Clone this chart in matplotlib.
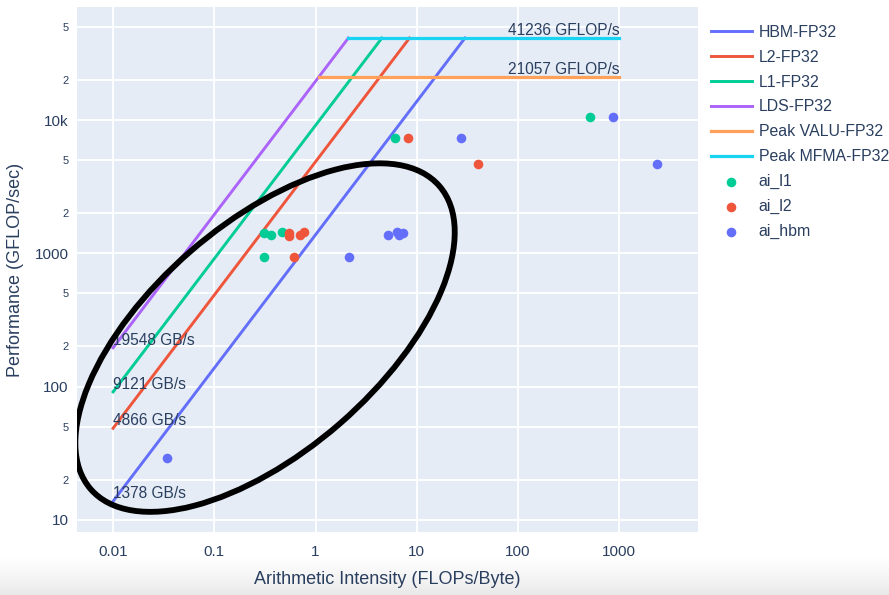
import numpy as np
import matplotlib
matplotlib.use('Agg')
import matplotlib.pyplot as plt
from matplotlib.patches import Ellipse
from matplotlib.transforms import IdentityTransform

# roofline values
mem_names = ['HBM-FP32', 'L2-FP32', 'L1-FP32', 'LDS-FP32']
mem_bw = [1378, 4866, 9121, 19548]          # GB/s
peak_names = ['Peak VALU-FP32', 'Peak MFMA-FP32']
peak_flops = [21057, 41236]                 # GFLOP/s
ai_start = 0.01
ai_end = 1000

# kernel points (arithmetic intensity, performance)
l1_ai = [518, 6.08, 0.308, 0.365, 0.469, 0.308]
l1_perf = [10500, 7360, 1430, 1372, 1445, 933]
l2_ai = [8.11, 40.2, 0.541, 0.545, 0.695, 0.761, 0.616]
l2_perf = [7360, 4650, 1413, 1353, 1381, 1445, 933]
hbm_ai = [861, 27.3, 2360, 5.15, 6.36, 6.61, 7.24, 2.13, 0.034]
hbm_perf = [10500, 7360, 4650, 1381, 1445, 1364, 1420, 933, 29.3]

y_ticks = [10, 20, 50, 100, 200, 500, 1000, 2000, 5000, 10000, 20000, 50000]
y_labels = ['10', '2', '5', '100', '2', '5', '1000', '2', '5', '10k', '2', '5']
x_ticks = [0.01, 0.1, 1, 10, 100, 1000]
x_labels = ['0.01', '0.1', '1', '10', '100', '1000']

mem_colors = ['#636EFA', '#EF553B', '#00CC96', '#AB63FA']
peak_colors = ['#FFA15A', '#19D3F3']
TXT = '#2a3f5f'

plt.rcParams['font.family'] = ['Liberation Sans', 'DejaVu Sans']

fig = plt.figure(figsize=(8.89, 5.95), dpi=100)

# faint grey shading at the bottom of the screenshot
bg = fig.add_axes([0, 0, 1, 38 / 595])
bg.set_zorder(-1)
grad = np.linspace(0, 1, 50).reshape(-1, 1)
bg.imshow(grad, aspect='auto', cmap='Greys', vmin=0, vmax=6, extent=[0, 1, 0, 1])
bg.axis('off')

ax = fig.add_axes([77 / 889, 63 / 595, 621 / 889, 525 / 595])
ax.set_facecolor('#E5ECF6')
ax.set_xscale('log')
ax.set_yscale('log')
ax.set_xlim(0.0044, 6000)
ax.set_ylim(8.1, 70500)

max_peak = max(peak_flops)
for name, bw, col in zip(mem_names, mem_bw, mem_colors):
    ridge = max_peak / bw
    ax.plot([ai_start, ridge], [ai_start * bw, max_peak], color=col,
            lw=2.1, label=name, zorder=3)
    ax.annotate(f'{bw} GB/s', (ai_start, ai_start * bw), xytext=(0, 0),
                textcoords='offset points', ha='left', va='bottom',
                fontsize=11.2, color=TXT, zorder=5)

for name, pk, col in zip(peak_names, peak_flops, peak_colors):
    ridge = pk / max(mem_bw)
    ax.plot([ridge, ai_end], [pk, pk], color=col, lw=2.3, label=name, zorder=3)
    ax.annotate(f'{pk} GFLOP/s', (ai_end, pk), xytext=(0, 0),
                textcoords='offset points', ha='right', va='bottom',
                fontsize=11.2, color=TXT, zorder=5)

ax.scatter(l1_ai, l1_perf, s=48, color='#00CC96', label='ai_l1', zorder=4, linewidths=0)
ax.scatter(l2_ai, l2_perf, s=48, color='#EF553B', label='ai_l2', zorder=4, linewidths=0)
ax.scatter(hbm_ai, hbm_perf, s=48, color='#636EFA', label='ai_hbm', zorder=4, linewidths=0)

ax.xaxis.set_major_locator(matplotlib.ticker.FixedLocator(x_ticks))
ax.xaxis.set_major_formatter(matplotlib.ticker.FixedFormatter(x_labels))
ax.xaxis.set_minor_locator(matplotlib.ticker.NullLocator())
ax.yaxis.set_major_locator(matplotlib.ticker.FixedLocator(y_ticks))
ax.yaxis.set_major_formatter(matplotlib.ticker.FixedFormatter(y_labels))
ax.yaxis.set_minor_locator(matplotlib.ticker.NullLocator())
ax.tick_params(length=0, colors=TXT, labelsize=11)
ax.tick_params(axis='x', pad=9)
ax.tick_params(axis='y', pad=6)
for lab, txt in zip(ax.get_yticklabels(), y_labels):
    if txt in ('2', '5'):
        lab.set_fontsize(8)

ax.grid(True, color='white', lw=1.3)
ax.set_axisbelow(True)
for s in ax.spines.values():
    s.set_visible(False)

ax.set_xlabel('Arithmetic Intensity (FLOPs/Byte)', fontsize=13, color=TXT, labelpad=9)
ax.set_ylabel('Performance (GFLOP/sec)', fontsize=13, color=TXT, labelpad=8)

fig.legend(*ax.get_legend_handles_labels(), loc='upper left',
           bbox_to_anchor=(711 / 889, 1 - 25 / 595), bbox_transform=fig.transFigure,
           frameon=False, fontsize=11.4, labelcolor=TXT, handlelength=2.57,
           handletextpad=0.45, labelspacing=0.62, borderpad=0, borderaxespad=0,
           scatterpoints=1)

# hand-drawn black ellipse highlight
fig.canvas.draw()
cx, cy = ax.transData.transform((0.317, 233))
ell = Ellipse((cx, cy), 2 * 231, 2 * 114, angle=41, fill=False,
              edgecolor='black', lw=4.2, transform=IdentityTransform(), zorder=6)
ax.add_artist(ell)

fig.savefig('out.png', dpi=100, facecolor='white')
